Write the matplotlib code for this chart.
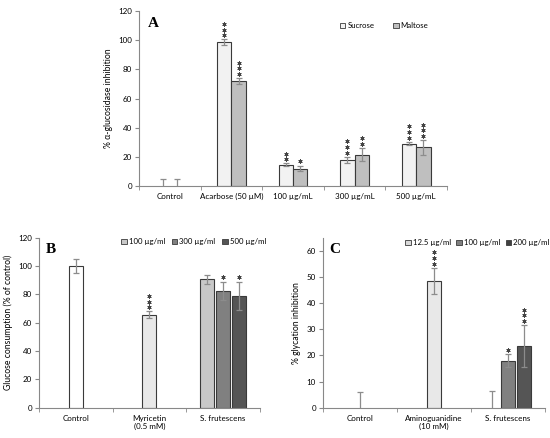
import numpy as np
import matplotlib
matplotlib.use('Agg')
import matplotlib.pyplot as plt
import matplotlib.transforms as mtransforms
from matplotlib.patches import Patch

plt.rcParams['font.family'] = ['Lato', 'DejaVu Sans']
plt.rcParams['font.size'] = 5.8

# Panel A data
a_groups = ['Control', 'Acarbose (50 µM)', '100 µg/mL', '300 µg/mL', '500 µg/mL']
a_sucrose = [0, 98.5, 14.5, 18, 29]
a_sucrose_err = [5, 2, 1, 2, 1.2]
a_maltose = [0, 72, 12, 21.5, 26.5]
a_maltose_err = [5, 2, 2, 4.5, 5]
a_sucrose_stars = ['', '***', '**', '***', '***']
a_maltose_stars = ['', '***', '*', '**', '***']

# Panel B data
b_groups = ['Control', 'Myricetin\n(0.5 mM)', 'S. frutescens']
b_control, b_control_err = 100, 5
b_myricetin, b_myricetin_err = 65.5, 2.5
b_doses = ['100 µg/ml', '300 µg/ml', '500 µg/ml']
b_extract = [90.5, 82.5, 79]
b_extract_err = [3, 6.5, 10]
b_extract_stars = ['', '*', '*']

# Panel C data
c_groups = ['Control', 'Aminoguanidine\n(10 mM)', 'S. frutescens']
c_control, c_control_err = 0, 6
c_amino, c_amino_err = 48.5, 5
c_doses = ['12.5 µg/ml', '100 µg/ml', '200 µg/ml']
c_extract = [0, 18, 23.5]
c_extract_err = [6.5, 2.5, 8]
c_extract_stars = ['', '*', '***']

ERR = '#8c8c8c'
EDGE = '#3a3a3a'
dose_colors = ['#c8c8c8', '#808080', '#555555']


def style_axes(ax, n, labels):
    for s in ['top', 'right']:
        ax.spines[s].set_visible(False)
    for s in ['left', 'bottom']:
        ax.spines[s].set_color('#888888')
        ax.spines[s].set_linewidth(0.8)
    ax.set_xlim(-0.5, n - 0.5)
    ax.set_xticks(range(n))
    ax.set_xticklabels(labels)
    ax.set_xticks(np.arange(-0.5, n, 1), minor=True)
    ax.tick_params(axis='x', which='major', length=0, pad=5)
    ax.tick_params(axis='x', which='minor', length=3, color='#888888')
    ax.tick_params(axis='y', length=3, color='#888888', pad=2)


def stars(ax, x, top, s):
    # asterisks stacked above the error bar
    for i in range(len(s)):
        tr = mtransforms.offset_copy(ax.transData, fig=ax.figure, x=0, y=3.0 + 4.1 * i,
                                     units='points')
        ax.plot([x], [top], marker=(6, 2, 0), ms=3.0, mew=0.6, color='#444444',
                transform=tr, clip_on=False, zorder=4)


def bar(ax, x, v, e, w, c, st=''):
    if v > 0:
        ax.bar(x, v, w, color=c, edgecolor=EDGE, linewidth=0.8, zorder=2)
    ax.errorbar(x, v, yerr=e, fmt='none', ecolor=ERR, elinewidth=0.9, capsize=2,
                capthick=0.9, zorder=3)
    if st:
        stars(ax, x, v + e, st)


fig = plt.figure(figsize=(5.5, 4.38), dpi=100)

leg_kw = dict(frameon=False, loc='center left', handlelength=0.7, handleheight=0.7,
              handletextpad=0.25, fontsize=5.6)

# ---- A
axA = fig.add_axes([0.2527, 0.5753, 0.56, 0.3996])
w = 0.235
for i in range(len(a_groups)):
    bar(axA, i - w / 2, a_sucrose[i], a_sucrose_err[i], w, '#f2f2f2', a_sucrose_stars[i])
    bar(axA, i + w / 2, a_maltose[i], a_maltose_err[i], w, '#bfbfbf', a_maltose_stars[i])
axA.set_ylim(0, 120)
axA.set_yticks(range(0, 121, 20))
style_axes(axA, len(a_groups), a_groups)
axA.set_ylabel('% α-glucosidase inhibition', labelpad=4, fontsize=6.2)
axA.text(0.03, 0.965, 'A', transform=axA.transAxes, family='Liberation Serif',
         fontweight='bold', fontsize=11, va='top')
axA.legend(handles=[Patch(fc='#f2f2f2', ec=EDGE, lw=0.6, label='Sucrose'),
                    Patch(fc='#bfbfbf', ec=EDGE, lw=0.6, label='Maltose')],
           ncol=2, bbox_to_anchor=(0.63, 0.915), columnspacing=2.4, **leg_kw)

# ---- B
axB = fig.add_axes([0.0709, 0.0692, 0.4018, 0.3881])
bw = 0.19
sp = 0.22
bar(axB, 0, b_control, b_control_err, bw, 'white')
bar(axB, 1, b_myricetin, b_myricetin_err, bw, '#e8e8e8', '***')
for j in range(3):
    bar(axB, 2 + (j - 1) * sp, b_extract[j], b_extract_err[j], bw, dose_colors[j],
        b_extract_stars[j])
axB.set_ylim(0, 120)
axB.set_yticks(range(0, 121, 20))
style_axes(axB, 3, b_groups)
axB.set_ylabel('Glucose consumption (% of control)', labelpad=4, fontsize=6.2)
axB.text(0.03, 0.97, 'B', transform=axB.transAxes, family='Liberation Serif',
         fontweight='bold', fontsize=11, va='top')
axB.legend(handles=[Patch(fc=dose_colors[j], ec=EDGE, lw=0.6, label=b_doses[j]) for j in range(3)],
           ncol=3, bbox_to_anchor=(0.34, 0.975), columnspacing=0.9, **leg_kw)

# ---- C
axC = fig.add_axes([0.5873, 0.0692, 0.4036, 0.3881])
bar(axC, 0, c_control, c_control_err, bw, 'white')
bar(axC, 1, c_amino, c_amino_err, bw, '#e8e8e8', '***')
for j in range(3):
    bar(axC, 2 + (j - 1) * sp, c_extract[j], c_extract_err[j], bw, dose_colors[j],
        c_extract_stars[j])
axC.set_ylim(0, 65)
axC.set_yticks(range(0, 61, 10))
style_axes(axC, 3, c_groups)
axC.set_ylabel('% glycation inhibition', labelpad=4, fontsize=6.2)
axC.text(0.03, 0.97, 'C', transform=axC.transAxes, family='Liberation Serif',
         fontweight='bold', fontsize=11, va='top')
axC.legend(handles=[Patch(fc=['#d9d9d9', '#808080', '#404040'][j], ec=EDGE, lw=0.6,
                          label=c_doses[j]) for j in range(3)],
           ncol=3, bbox_to_anchor=(0.34, 0.97), columnspacing=0.7, **leg_kw)

fig.savefig('out.png', dpi=100)
